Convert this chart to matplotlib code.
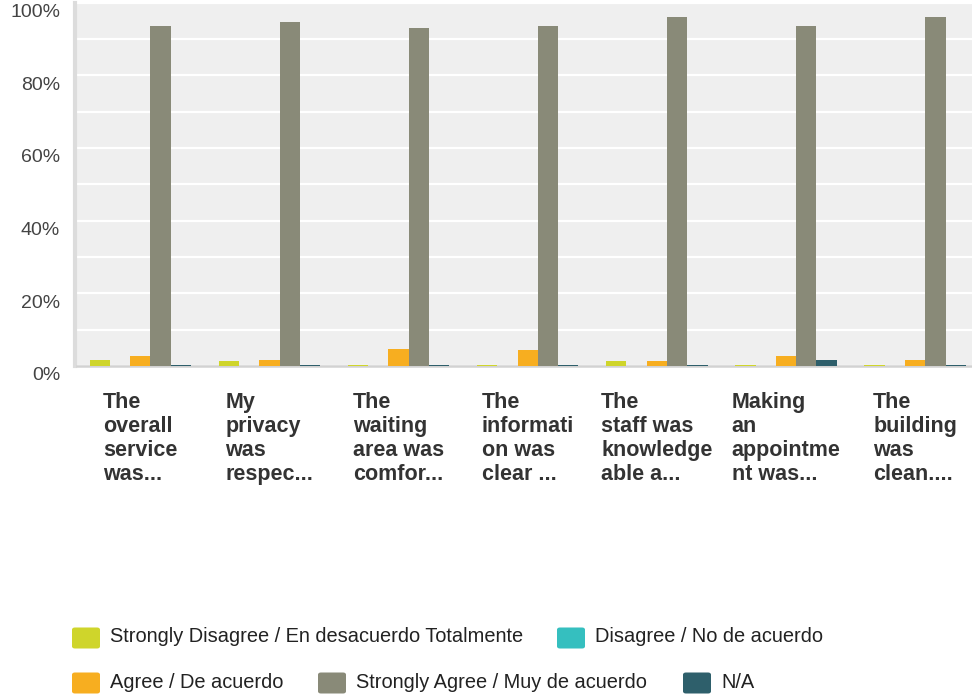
import numpy as np
import matplotlib
matplotlib.use("Agg")
import matplotlib.pyplot as plt
from matplotlib import transforms
from matplotlib.patches import FancyBboxPatch

plt.rcParams['font.family'] = ['Liberation Sans', 'DejaVu Sans']

# data (percent of responses)
categories = [
    "The\noverall\nservice\nwas...",
    "My\nprivacy\nwas\nrespec...",
    "The\nwaiting\narea was\ncomfor...",
    "The\ninformati\non was\nclear ...",
    "The\nstaff was\nknowledge\nable a...",
    "Making\nan\nappointme\nnt was...",
    "The\nbuilding\nwas\nclean....",
]
series_names = [
    "Strongly Disagree / En desacuerdo Totalmente",
    "Disagree / No de acuerdo",
    "Agree / De acuerdo",
    "Strongly Agree / Muy de acuerdo",
    "N/A",
]
strongly_disagree = [1.7, 1.4, 0.3, 0.3, 1.4, 0.3, 0.3]
disagree = [0, 0, 0, 0, 0, 0, 0]
agree = [2.8, 1.7, 4.7, 4.4, 1.4, 2.8, 1.7]
strongly_agree = [93.6, 94.7, 93.0, 93.6, 96.1, 93.6, 96.1]
not_applicable = [0.3, 0.3, 0.3, 0.3, 0.3, 1.7, 0.3]
yticks = [0, 20, 40, 60, 80, 100]
ytick_labels = ["0%", "20%", "40%", "60%", "80%", "100%"]

colors = ["#cfd52b", "#35bfbf", "#f7ae20", "#898a78", "#2e5f6b"]

W, H = 972, 695
fig = plt.figure(figsize=(W / 100, H / 100), dpi=100)
fig.patch.set_facecolor("white")

ax = fig.add_axes([77 / W, (H - 366) / H, (W - 77) / W, 363.5 / H])
ax.set_facecolor("#efefef")

x = np.arange(len(categories))
bw = 0.157
all_series = [strongly_disagree, disagree, agree, strongly_agree, not_applicable]
for k, (vals, col) in enumerate(zip(all_series, colors)):
    ax.bar(x + (k - 2) * bw, vals, width=bw, color=col, zorder=3, linewidth=0)

ax.set_xlim(-0.49, 6.44)
ax.set_ylim(0, 100)
ax.set_yticks(np.arange(0, 101, 10))
ax.set_yticklabels([])
ax.grid(True, axis="y", color="white", linewidth=1.6, zorder=1)
ax.tick_params(axis="y", length=0)
ax.set_xticks([])

# y labels sit a little below their gridlines, as in the reference
ylab_trans = transforms.blended_transform_factory(ax.transAxes, ax.transData) + \
    transforms.ScaledTranslation(-17 / 100, -10 / 100, fig.dpi_scale_trans)
for v, lab in zip(yticks, ytick_labels):
    ax.text(0, v, lab, transform=ylab_trans, ha="right", va="center",
            fontsize=14, color="#444444")

for s in ["top", "right"]:
    ax.spines[s].set_visible(False)
ax.spines["left"].set_color("#dcdcdc")
ax.spines["left"].set_linewidth(3)
ax.spines["left"].set_position(("outward", 1.5))
ax.spines["bottom"].set_color("#d2d2d2")
ax.spines["bottom"].set_linewidth(1.8)

# category labels
trans = transforms.blended_transform_factory(ax.transData, ax.transAxes)
for i, lab in enumerate(categories):
    ax.text(i - 0.0, -26 / 363.5, lab, transform=trans, ha="center", va="top",
            multialignment="left", fontsize=15.5, fontweight="bold", color="#333333",
            linespacing=1.18)

# legend laid out like the reference (two flowing rows)
legend_items = [
    (0, 72, 638), (1, 557, 638),
    (2, 72, 683), (3, 318, 683), (4, 683, 683),
]
for k, px, py in legend_items:
    fig.patches.append(FancyBboxPatch(
        (px / W, (H - py - 10.5) / H), 28 / W, 21 / H,
        boxstyle="round,pad=0,rounding_size=0.003", transform=fig.transFigure,
        facecolor=colors[k], edgecolor="none"))
    fig.text((px + 38) / W, (H - py + 1) / H, series_names[k], ha="left", va="center",
             fontsize=14.4, color="#222222")

fig.savefig("out.png", dpi=100)
